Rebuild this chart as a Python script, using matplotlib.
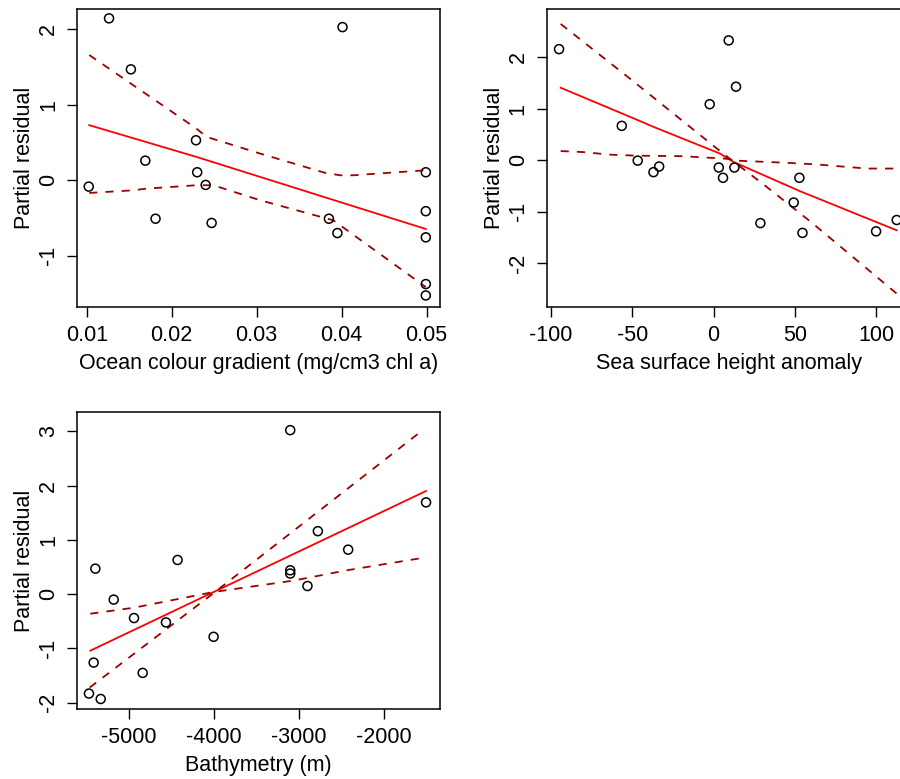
import matplotlib.pyplot as plt

plt.rcParams['font.family'] = ['Liberation Sans', 'DejaVu Sans']

# --- panel 1: ocean colour gradient ---
oc_x = [0.01263, 0.0401, 0.0152, 0.02286, 0.0169, 0.0230, 0.0499, 0.01024, 0.0240,
        0.0181, 0.0247, 0.0385, 0.0395, 0.0499, 0.0499, 0.0499, 0.0499]
oc_y = [2.146, 2.03, 1.47, 0.53, 0.26, 0.106, 0.106, -0.084, -0.062,
        -0.51, -0.566, -0.51, -0.70, -0.41, -0.757, -1.376, -1.527]
oc_fit_x = [0.0103, 0.0229, 0.0499]
oc_fit_y = [0.73, 0.31, -0.646]
oc_up_x = [0.0103, 0.0229, 0.0241, 0.0304, 0.0380, 0.0398, 0.0414, 0.0499]
oc_up_y = [1.66, 0.686, 0.575, 0.354, 0.10, 0.066, 0.066, 0.133]
oc_lo_x = [0.0103, 0.0155, 0.0171, 0.0229, 0.0249, 0.0304, 0.0390, 0.0406, 0.0499]
oc_lo_y = [-0.168, -0.133, -0.11, -0.066, -0.066, -0.265, -0.53, -0.66, -1.416]

# --- panel 2: sea surface height anomaly ---
ssh_x = [-95.1, 9.3, 13.8, -2.4, -56.5, -46.7, -37.0, -33.5, 3.2, 5.8, 12.8,
         52.8, 49.3, 28.8, 54.7, 100.0, 112.7]
ssh_y = [2.16, 2.33, 1.43, 1.09, 0.67, -0.006, -0.23, -0.12, -0.14, -0.34, -0.14,
         -0.34, -0.82, -1.22, -1.41, -1.38, -1.16]
ssh_fit_x = [-94.1, -47.3, -37.0, 4.0, 12.2, 53.2, 112.7]
ssh_fit_y = [1.41, 0.79, 0.65, 0.13, -0.03, -0.60, -1.36]
ssh_a_x = [-94.1, -50.0, 0.0, 10.0, 30.0, 60.0, 112.7]
ssh_a_y = [2.65, 1.55, 0.28, 0.03, -0.45, -1.2, -2.59]
ssh_b_x = [-94.1, -80.3, -63.7, -47.3, -18.6, 8.1, 16.3, 43.0, 63.5, 94.3, 112.7]
ssh_b_y = [0.18, 0.16, 0.11, 0.09, 0.08, 0.03, -0.01, -0.045, -0.08, -0.16, -0.16]

# --- panel 3: bathymetry ---
bath_x = [-3098, -1499, -2773, -2416, -4424, -5392, -3098, -3098, -2895, -5176,
          -4937, -4561, -4000, -5412, -4835, -5467, -5329]
bath_y = [3.02, 1.69, 1.16, 0.82, 0.63, 0.47, 0.44, 0.38, 0.15, -0.10,
          -0.44, -0.52, -0.785, -1.26, -1.45, -1.83, -1.93]
bath_fit_x = [-5451, -1499]
bath_fit_y = [-1.04, 1.90]
bath_a_x = [-5459, -4000, -1530]
bath_a_y = [-1.72, 0.02, 3.03]
bath_b_x = [-5451, -4941, -4000, -3059, -2431, -1530]
bath_b_y = [-0.36, -0.25, 0.04, 0.25, 0.44, 0.67]

W, H = 900, 779
FS = 15.5
fig = plt.figure(figsize=(9, 7.79), dpi=100)


def make_ax(left, right, top, bottom):
    return fig.add_axes([left / W, 1 - bottom / H, (right - left) / W, (bottom - top) / H])


def termplot(ax, x, y, fx, fy, ax_, ay_, bx, by, xlim, ylim, xticks, yticks, xlabel, xfmt):
    ax.plot(fx, fy, color='#ff0000', lw=1.3)
    ax.plot(ax_, ay_, color='#9b0000', lw=1.3, ls=(0, (4.5, 4.5)))
    ax.plot(bx, by, color='#9b0000', lw=1.3, ls=(0, (4.5, 4.5)))
    ax.scatter(x, y, s=42, facecolors='none', edgecolors='black', linewidths=1.1, zorder=3)
    ax.set_xlim(*xlim)
    ax.set_ylim(*ylim)
    ax.set_xticks(xticks)
    ax.set_xticklabels([xfmt(v) for v in xticks])
    ax.set_yticks(yticks)
    ax.set_yticklabels([str(v) for v in yticks], rotation=90, va='center')
    ax.tick_params(direction='out', length=7, width=1, labelsize=FS, pad=6)
    for s in ax.spines.values():
        s.set_linewidth(1.1)
    ax.set_xlabel(xlabel, fontsize=FS, labelpad=5)
    ax.set_ylabel('Partial residual', fontsize=FS, labelpad=2)


ax1 = make_ax(77, 440, 9, 307)
termplot(ax1, oc_x, oc_y, oc_fit_x, oc_fit_y, oc_up_x, oc_up_y, oc_lo_x, oc_lo_y,
         (0.00886, 0.05157), (-1.68, 2.27), [0.01, 0.02, 0.03, 0.04, 0.05], [-1, 0, 1, 2],
         'Ocean colour gradient (mg/cm3 chl a)', lambda v: f'{v:.2f}')

ax2 = make_ax(546.7, 910.7, 9, 307)
termplot(ax2, ssh_x, ssh_y, ssh_fit_x, ssh_fit_y, ssh_a_x, ssh_a_y, ssh_b_x, ssh_b_y,
         (-102.7, 121.3), (-2.85, 2.94), [-100, -50, 0, 50, 100], [-2, -1, 0, 1, 2],
         'Sea surface height anomaly', lambda v: f'{v:d}')

ax3 = make_ax(77, 440, 411.7, 709.3)
termplot(ax3, bath_x, bath_y, bath_fit_x, bath_fit_y, bath_a_x, bath_a_y, bath_b_x, bath_b_y,
         (-5608, -1335), (-2.12, 3.36), [-5000, -4000, -3000, -2000], [-2, -1, 0, 1, 2, 3],
         'Bathymetry (m)', lambda v: f'{v:d}')

fig.savefig('out.png', dpi=100)
